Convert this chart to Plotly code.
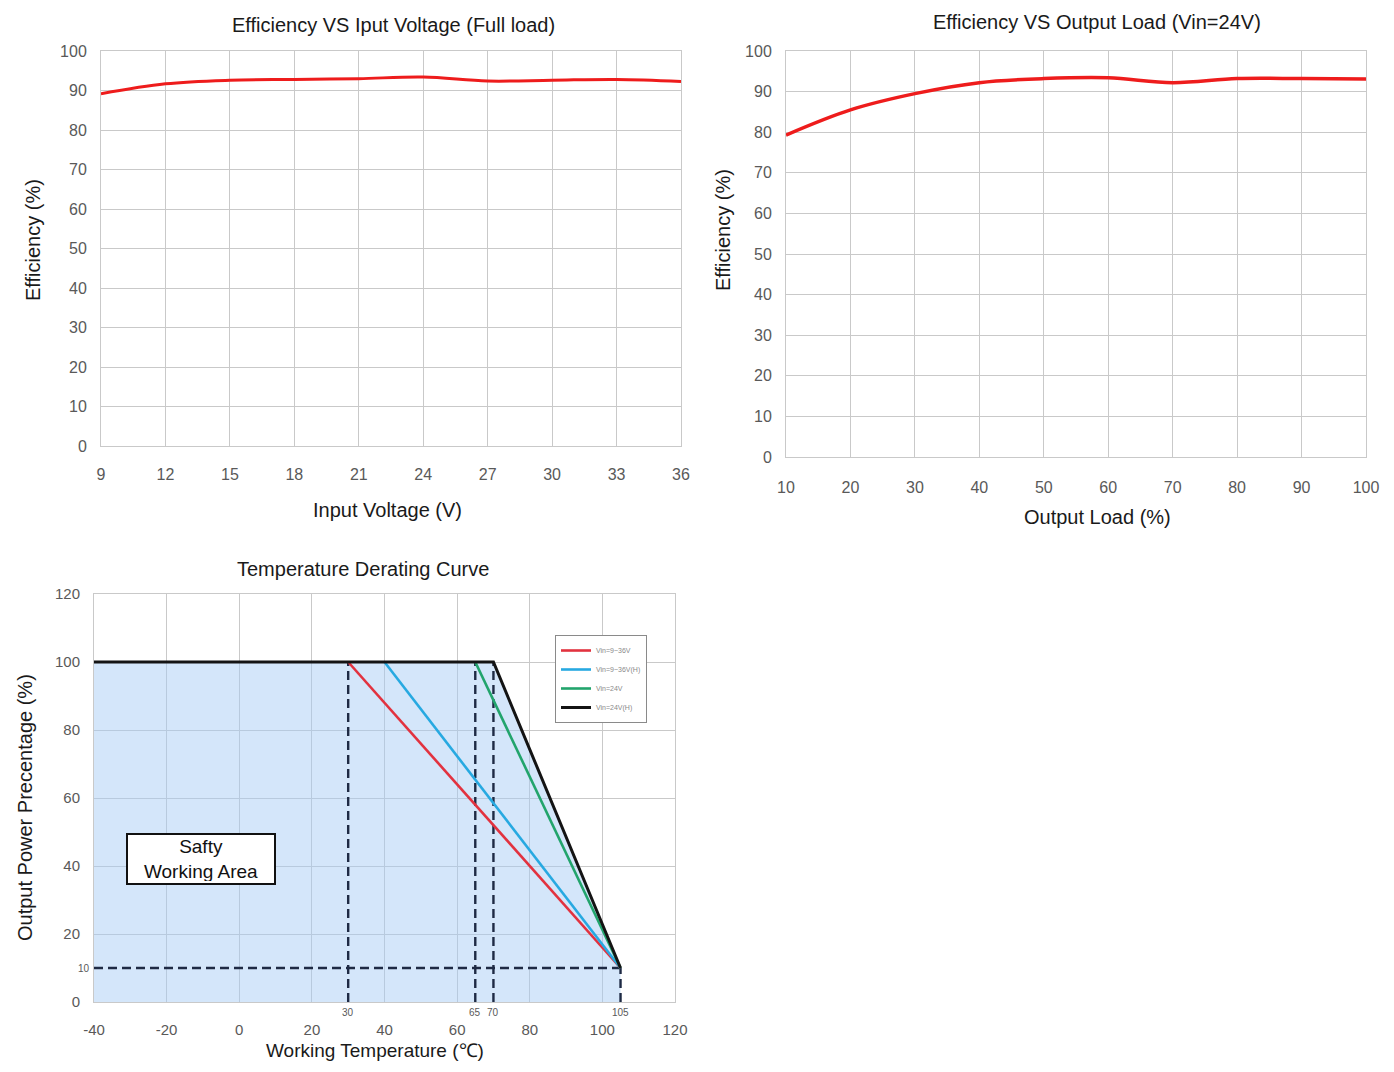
import plotly.graph_objects as go

# ---------------- data ----------------
vin = [9, 12, 15, 18, 21, 24, 27, 30, 33, 36]
eff_vin = [89.2, 91.7, 92.6, 92.8, 93.0, 93.4, 92.4, 92.6, 92.8, 92.3]

load = [10, 20, 30, 40, 50, 60, 70, 80, 90, 100]
eff_load = [79.3, 85.5, 89.5, 92.2, 93.2, 93.4, 92.2, 93.2, 93.2, 93.1]

derating_names = ["Vin=9~36V", "Vin=9~36V(H)", "Vin=24V", "Vin=24V(H)"]
derating_start = [30, 40, 65, 70]       # temperature where derating begins (100%)
derating_end_t = 105                     # temperature at end
derating_end_p = 10                      # power % at end
t_min = -40
derating_colors = ["#e2323f", "#27a9e1", "#22a46c", "#141414"]
marked_temps = [30, 65, 70, 105]
temp_ticks = [-40, -20, 0, 20, 40, 60, 80, 100, 120]
temp_ticktext = ["-40", "-20", "0", "20", "40", "60", "80", "100", "120"]

W, H = 1394, 1072
OFF = 8  # page body margin
FW, FH = W - 2 * OFF, H - 2 * OFF
FONT = "Liberation Sans, Arial, sans-serif"
TICKC = "#595959"
GRID = "#c9c9c9"


def px_x(p):
    return (p - OFF) / FW


def px_y(p):
    return 1 - (p - OFF) / FH


fig = go.Figure()

# ---- top-left ----
fig.add_trace(go.Scatter(x=vin, y=eff_vin, mode="lines", line=dict(color="#ee1c1c", width=3, shape="spline", smoothing=1),
                         showlegend=False, xaxis="x", yaxis="y"))
# ---- top-right ----
fig.add_trace(go.Scatter(x=load, y=eff_load, mode="lines", line=dict(color="#ee1c1c", width=3.5, shape="spline", smoothing=1),
                         showlegend=False, xaxis="x2", yaxis="y2"))

# ---- bottom: safe area fill ----
black_start = derating_start[-1]
fig.add_trace(go.Scatter(x=[t_min, black_start, derating_end_t, derating_end_t, t_min],
                         y=[100, 100, derating_end_p, 0, 0], mode="lines", fill="toself",
                         fillcolor="rgba(165,202,245,0.48)", line=dict(width=0),
                         showlegend=False, hoverinfo="skip", xaxis="x3", yaxis="y3"))

# dashed guides
DASH = "#1e2a44"
DASHPAT = "9px,5px"
fig.add_trace(go.Scatter(x=[t_min, derating_end_t], y=[derating_end_p, derating_end_p], mode="lines",
                         line=dict(color=DASH, width=2.4, dash=DASHPAT), showlegend=False,
                         xaxis="x3", yaxis="y3"))
for t in marked_temps:
    top = 100 if t != derating_end_t else derating_end_p
    fig.add_trace(go.Scatter(x=[t, t], y=[0, top], mode="lines",
                             line=dict(color=DASH, width=2.4, dash=DASHPAT), showlegend=False,
                             xaxis="x3", yaxis="y3"))

# derating curves
for name, s, c in zip(derating_names, derating_start, derating_colors):
    xs = [s, derating_end_t]
    ys = [100, derating_end_p]
    if name == derating_names[-1]:
        xs = [t_min] + xs
        ys = [100] + ys
    fig.add_trace(go.Scatter(x=xs, y=ys, mode="lines", name=name,
                             line=dict(color=c, width=2.6 if name != derating_names[-1] else 3),
                             xaxis="x3", yaxis="y3"))

common_axis = dict(showgrid=True, gridcolor=GRID, gridwidth=1, zeroline=False,
                   showline=True, linecolor=GRID, mirror=True, automargin=False,
                   tickfont=dict(family=FONT, size=16, color=TICKC),
                   ticks="outside", tickcolor="rgba(0,0,0,0)")

fig.update_layout(
    template="none",
    width=FW, height=FH, margin=dict(l=0, r=0, t=0, b=0, pad=0), autosize=False,
    paper_bgcolor="white", plot_bgcolor="white",
    font=dict(family=FONT),
    xaxis=dict(common_axis, domain=[px_x(101), px_x(681)], range=[9, 36], tickvals=vin, ticklen=14, anchor="y"),
    yaxis=dict(common_axis, domain=[px_y(446), px_y(51)], range=[0, 100], dtick=10, ticklen=10, anchor="x"),
    xaxis2=dict(common_axis, domain=[px_x(786), px_x(1366)], range=[10, 100], tickvals=load, ticklen=16, anchor="y2"),
    yaxis2=dict(common_axis, domain=[px_y(457), px_y(51)], range=[0, 100], dtick=10, ticklen=10, anchor="x2"),
    xaxis3=dict(common_axis, domain=[px_x(94), px_x(675)], range=[-40, 120], tickvals=temp_ticks,
                ticktext=temp_ticktext, ticklen=14, anchor="y3",
                tickfont=dict(family=FONT, size=15, color=TICKC)),
    yaxis3=dict(common_axis, domain=[px_y(1002), px_y(594)], range=[0, 120], dtick=20, ticklen=10, anchor="x3",
                tickfont=dict(family=FONT, size=15, color=TICKC)),
    legend=dict(x=px_x(555), y=px_y(635), xanchor="left", yanchor="top",
                font=dict(family=FONT, size=7, color="#8a8a8a"),
                bordercolor="#8a8a8a", borderwidth=1, bgcolor="white",
                itemwidth=30, tracegroupgap=0),
    showlegend=True,
)

anns = [
    dict(text="Efficiency VS Iput Voltage (Full load)", x=px_x(393), y=px_y(25), size=20),
    dict(text="Efficiency VS Output Load (Vin=24V)", x=px_x(1097), y=px_y(22), size=20),
    dict(text="Temperature Derating Curve", x=px_x(363), y=px_y(569), size=20),
    dict(text="Input Voltage (V)", x=px_x(387), y=px_y(510), size=20),
    dict(text="Output Load (%)", x=px_x(1097), y=px_y(517), size=20),
    dict(text="Working Temperature (℃)", x=px_x(375), y=px_y(1050), size=19),
]
for a in anns:
    fig.add_annotation(text=a["text"], x=a["x"], y=a["y"], xref="paper", yref="paper",
                       showarrow=False, xanchor="center", yanchor="middle",
                       font=dict(family=FONT, size=a["size"], color="#1a1a1a"))
for text, x, y in [("Efficiency (%)", 33, 240), ("Efficiency (%)", 723, 230), ("Output Power Precentage (%)", 25, 808)]:
    fig.add_annotation(text=text, x=px_x(x), y=px_y(y), xref="paper", yref="paper", textangle=-90,
                       showarrow=False, xanchor="center", yanchor="middle",
                       font=dict(family=FONT, size=20, color="#1a1a1a"))

# small marked temperature labels
for t in marked_temps:
    fig.add_annotation(text=str(t), x=t, y=0, xref="x3", yref="y3", showarrow=False,
                       yanchor="top", yshift=-3, font=dict(family=FONT, size=10, color=TICKC))
fig.add_annotation(text=str(derating_end_p), x=t_min, y=derating_end_p, xref="x3", yref="y3", showarrow=False,
                   xanchor="right", xshift=-2, font=dict(family=FONT, size=10, color=TICKC))

# Safe working area box
fig.add_annotation(text="Safty<br>Working Area", x=-10.5, y=42, xref="x3", yref="y3", showarrow=False,
                   font=dict(family=FONT, size=19, color="#111111"), bgcolor="white",
                   width=142, height=44, borderpad=2,
                   bordercolor="#111111", borderwidth=2, align="center")

fig.write_html("out.html")
